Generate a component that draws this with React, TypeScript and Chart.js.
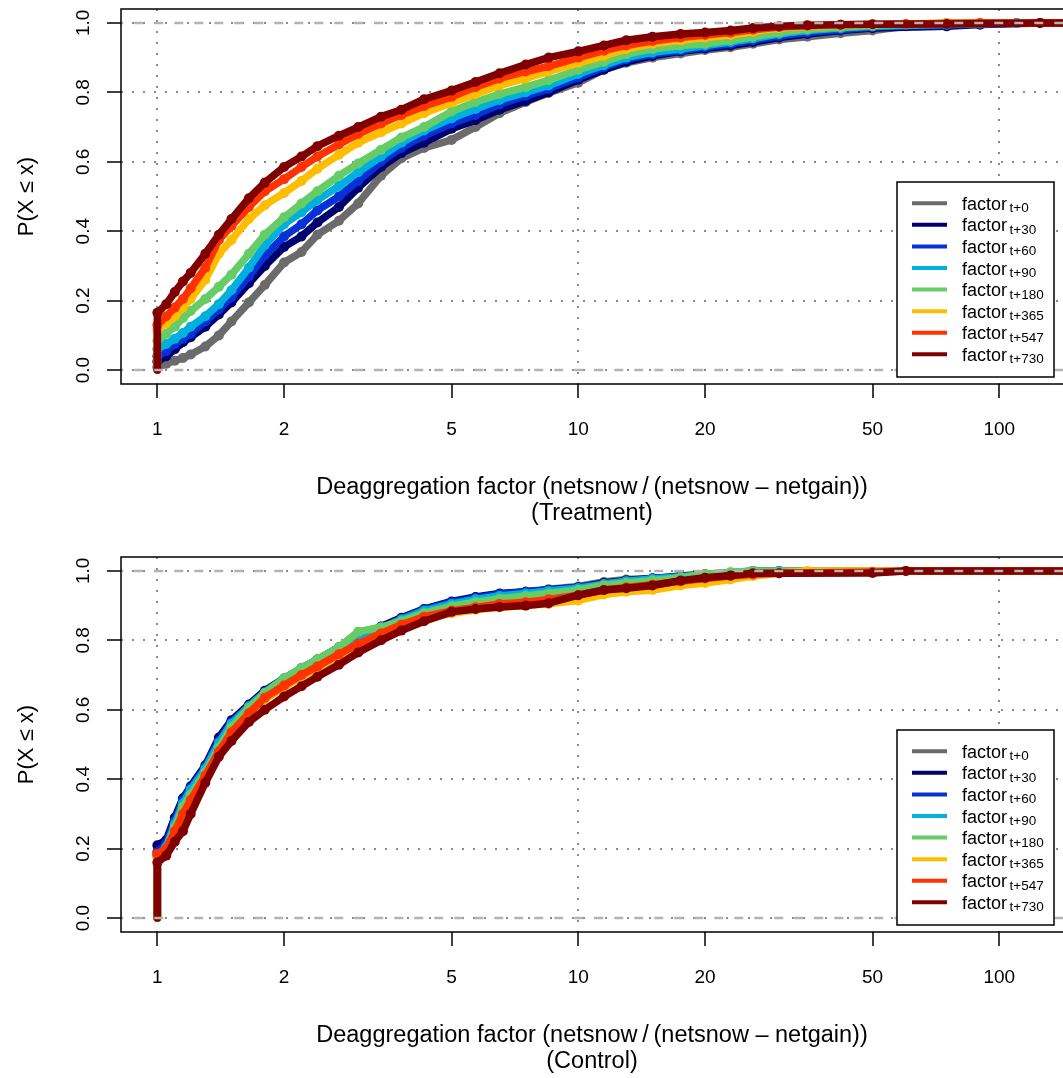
import React, { useEffect, useRef } from 'react';
import { Chart, registerables } from 'chart.js';

Chart.register(...registerables);

// ---------------- data ----------------
const factorGrid = [1, 1.05, 1.1, 1.15, 1.2, 1.3, 1.4, 1.5, 1.65, 1.8, 2, 2.2, 2.4, 2.7, 3, 3.4, 3.8, 4.3, 5, 5.7, 6.5, 7.5, 8.5, 10, 11.5, 13, 15, 17.5, 20, 23, 26, 30, 35, 42, 50, 60, 75, 90, 110, 125];

const seriesLabels = ['t+0', 't+30', 't+60', 't+90', 't+180', 't+365', 't+547', 't+730'];
const seriesColors = ['#6b6b6b', '#00006e', '#0531d6', '#00b0dc', '#66cc66', '#ffbd00', '#ff3300', '#7f0000'];

const xTickValues = [1, 2, 5, 10, 20, 50, 100];
const xGridValues = [1, 10, 100];
const yTickValues = [0, 0.2, 0.4, 0.6, 0.8, 1.0];

// Treatment
const trtT0 = [0.008, 0.018, 0.027, 0.035, 0.045, 0.068, 0.10, 0.14, 0.195, 0.245, 0.31, 0.34, 0.39, 0.43, 0.48, 0.56, 0.61, 0.64, 0.663, 0.70, 0.74, 0.772, 0.798, 0.828, 0.865, 0.885, 0.90, 0.912, 0.922, 0.93, 0.94, 0.952, 0.96, 0.97, 0.978, 0.99, 1.0, null, null, null];
const trtT30 = [0.025, 0.04, 0.06, 0.08, 0.095, 0.125, 0.16, 0.195, 0.25, 0.30, 0.355, 0.385, 0.425, 0.47, 0.525, 0.585, 0.625, 0.655, 0.695, 0.72, 0.75, 0.775, 0.80, 0.836, 0.865, 0.888, 0.905, 0.918, 0.926, 0.935, 0.945, 0.958, 0.968, 0.978, 0.985, null, 0.99, 0.995, null, 1.0];
const trtT60 = [0.04, 0.055, 0.075, 0.09, 0.105, 0.14, 0.175, 0.21, 0.27, 0.33, 0.385, 0.42, 0.46, 0.50, 0.545, 0.60, 0.64, 0.675, 0.71, 0.735, 0.765, 0.79, 0.81, 0.843, 0.872, 0.895, 0.91, 0.92, 0.93, 0.94, 0.95, 0.962, 0.972, 0.98, 0.988, 0.993, null, 0.996, 1.0, null];
const trtT90 = [0.06, 0.075, 0.09, 0.107, 0.125, 0.155, 0.19, 0.23, 0.295, 0.36, 0.42, 0.455, 0.49, 0.53, 0.57, 0.615, 0.655, 0.69, 0.725, 0.752, 0.778, 0.80, 0.82, 0.853, 0.878, 0.90, 0.915, 0.925, 0.935, 0.945, 0.955, 0.968, 0.978, 0.985, 0.99, null, 0.995, null, 1.0, null];
const trtT180 = [0.085, 0.105, 0.125, 0.15, 0.17, 0.205, 0.24, 0.275, 0.335, 0.39, 0.44, 0.48, 0.515, 0.56, 0.595, 0.635, 0.67, 0.70, 0.745, 0.772, 0.795, 0.815, 0.835, 0.865, 0.888, 0.91, 0.925, 0.935, 0.94, 0.95, 0.96, 0.972, 0.982, 0.988, 0.993, 0.996, null, 1.0, null, null];
const trtT365 = [0.115, 0.135, 0.155, 0.18, 0.205, 0.26, 0.335, 0.375, 0.435, 0.475, 0.51, 0.545, 0.58, 0.62, 0.655, 0.685, 0.71, 0.74, 0.77, 0.795, 0.82, 0.84, 0.86, 0.885, 0.905, 0.925, 0.94, 0.95, 0.958, 0.965, 0.975, 0.985, 0.99, 0.993, 0.995, null, 1.0, null, null, null];
const trtT547 = [0.13, 0.155, 0.18, 0.205, 0.235, 0.295, 0.375, 0.415, 0.47, 0.515, 0.55, 0.585, 0.615, 0.65, 0.68, 0.71, 0.735, 0.76, 0.787, 0.815, 0.84, 0.86, 0.875, 0.90, 0.92, 0.935, 0.948, 0.958, 0.965, 0.972, 0.98, 0.988, 0.992, 0.995, null, 0.997, null, 1.0, null, null];
const trtT730 = [0.165, 0.19, 0.225, 0.255, 0.28, 0.335, 0.39, 0.435, 0.495, 0.54, 0.585, 0.615, 0.645, 0.675, 0.70, 0.73, 0.75, 0.78, 0.805, 0.83, 0.855, 0.88, 0.90, 0.918, 0.935, 0.95, 0.96, 0.968, 0.972, 0.978, 0.985, 0.99, 0.993, 0.995, 0.996, null, 0.997, null, null, 1.0];

// Control
const ctlT0 = [0.18, 0.2, 0.26, 0.32, 0.36, 0.425, 0.5, 0.555, 0.605, 0.645, 0.685, 0.715, 0.74, 0.775, 0.80, 0.83, 0.858, 0.885, 0.905, 0.92, 0.932, 0.94, 0.947, 0.955, 0.968, 0.975, 0.978, 0.982, 0.99, 0.995, 1.0, null, null, null, null, null, null, null, null, null];
const ctlT30 = [0.21, 0.225, 0.29, 0.345, 0.38, 0.44, 0.52, 0.57, 0.615, 0.655, 0.69, 0.72, 0.745, 0.78, 0.81, 0.84, 0.865, 0.89, 0.912, 0.925, 0.935, 0.94, 0.945, 0.952, 0.965, 0.972, 0.978, 0.985, 0.99, 0.993, 0.997, 1.0, null, null, null, null, null, null, null, null];
const ctlT60 = [0.19, 0.215, 0.28, 0.34, 0.375, 0.435, 0.51, 0.565, 0.61, 0.65, 0.688, 0.718, 0.743, 0.778, 0.805, 0.835, 0.862, 0.888, 0.91, 0.922, 0.933, 0.94, 0.945, 0.953, 0.962, 0.97, 0.978, 0.983, 0.988, 0.993, 1.0, null, null, null, null, null, null, null, null, null];
const ctlT90 = [0.18, 0.205, 0.27, 0.33, 0.37, 0.43, 0.505, 0.56, 0.61, 0.65, 0.69, 0.72, 0.745, 0.778, 0.805, 0.835, 0.86, 0.885, 0.905, 0.918, 0.928, 0.935, 0.942, 0.95, 0.962, 0.97, 0.977, 0.983, 0.99, 0.995, null, 1.0, null, null, null, null, null, null, null, null];
const ctlT180 = [0.18, 0.2, 0.26, 0.32, 0.355, 0.42, 0.49, 0.55, 0.605, 0.648, 0.69, 0.72, 0.745, 0.78, 0.825, 0.838, 0.855, 0.878, 0.898, 0.91, 0.92, 0.928, 0.935, 0.945, 0.958, 0.965, 0.972, 0.98, 0.99, 0.996, 1.0, null, null, null, null, null, null, null, null, null];
const ctlT365 = [0.175, 0.19, 0.24, 0.29, 0.33, 0.40, 0.475, 0.53, 0.585, 0.63, 0.665, 0.695, 0.72, 0.755, 0.785, 0.815, 0.84, 0.86, 0.878, 0.888, 0.895, 0.90, 0.905, 0.915, 0.932, 0.94, 0.945, 0.958, 0.965, 0.975, 0.985, 0.993, 1.0, null, null, null, null, null, null, null];
const ctlT547 = [0.185, 0.2, 0.25, 0.3, 0.34, 0.41, 0.48, 0.535, 0.59, 0.635, 0.67, 0.70, 0.725, 0.76, 0.79, 0.82, 0.845, 0.868, 0.885, 0.895, 0.905, 0.91, 0.918, 0.93, 0.945, 0.952, 0.96, 0.97, 0.978, 0.985, 0.99, 0.993, null, null, 0.997, 1.0, null, null, null, null];
const ctlT730 = [0.16, 0.18, 0.22, 0.25, 0.3, 0.39, 0.465, 0.51, 0.565, 0.60, 0.638, 0.668, 0.695, 0.73, 0.765, 0.80, 0.828, 0.855, 0.882, 0.89, 0.896, 0.90, 0.907, 0.93, 0.945, 0.95, 0.958, 0.972, 0.98, 0.987, 0.993, 0.993, null, null, 0.994, 1.0, null, null, null, null];

const treatmentSeries = [trtT0, trtT30, trtT60, trtT90, trtT180, trtT365, trtT547, trtT730];
const controlSeries = [ctlT0, ctlT30, ctlT60, ctlT90, ctlT180, ctlT365, ctlT547, ctlT730];

// ---------------- styling / layout ----------------
const FONT = '"Liberation Sans", Arial, Helvetica, sans-serif';
const W = 1063;
const X_MIN = 0.8197;
const X_MAX = 141.7;
const Y_MIN = -0.04;
const Y_MAX = 1.04;
const AREA_TOP = 9;
const AREA_BOTTOM = 384;
const AREA_LEFT = 121;
const GRID_COLOR = '#8a8a8a';
const LINE01_COLOR = '#b3b3b3';

function makeDatasets(series: (number | null)[][]) {
  const sets: any[] = series.map((vals, s) => {
    const pts: { x: number; y: number }[] = [{ x: 1, y: 0 }];
    factorGrid.forEach((x, i) => {
      const v = vals[i];
      if (v !== null && v !== undefined) pts.push({ x, y: v });
    });
    pts.push({ x: X_MAX * 2, y: pts[pts.length - 1].y });
    const n = pts.length;
    return {
      label: seriesLabels[s],
      data: pts,
      borderColor: seriesColors[s],
      backgroundColor: seriesColors[s],
      borderWidth: 7.5,
      borderJoinStyle: 'round',
      borderCapStyle: 'round',
      pointRadius: (ctx: any) => (ctx.dataIndex < 1 || ctx.dataIndex === n - 1 ? 0 : 5),
      pointBorderWidth: 0,
      pointHoverRadius: 0,
      tension: 0,
      order: series.length - s,
    };
  });
  [0, 1].forEach((h) => {
    sets.push({
      label: 'line' + h,
      data: [{ x: X_MIN / 2, y: h }, { x: X_MAX * 2, y: h }],
      borderColor: LINE01_COLOR,
      borderWidth: 2.5,
      borderDash: [9, 11],
      pointRadius: 0,
      order: 0,
    });
  });
  return sets;
}

const boxAndLegend = {
  id: 'boxAndLegend',
  afterDraw(chart: any) {
    const { ctx, chartArea } = chart;
    ctx.save();
    // plot box (right side lies beyond the canvas)
    ctx.strokeStyle = '#000';
    ctx.lineWidth = 1.5;
    ctx.beginPath();
    ctx.moveTo(W + 10, chartArea.top);
    ctx.lineTo(chartArea.left, chartArea.top);
    ctx.lineTo(chartArea.left, chartArea.bottom);
    ctx.lineTo(W + 10, chartArea.bottom);
    ctx.stroke();

    // legend
    const lx = 897, ly = 182, lw = 157, lh = 195;
    ctx.fillStyle = '#fff';
    ctx.fillRect(lx, ly, lw, lh);
    ctx.strokeStyle = '#000';
    ctx.lineWidth = 1.5;
    ctx.strokeRect(lx, ly, lw, lh);
    seriesLabels.forEach((lab, i) => {
      const y = 203.3 + i * 21.57;
      ctx.strokeStyle = seriesColors[i];
      ctx.lineWidth = 4;
      ctx.lineCap = 'butt';
      ctx.beginPath();
      ctx.moveTo(912, y);
      ctx.lineTo(947, y);
      ctx.stroke();
      ctx.fillStyle = '#000';
      ctx.textAlign = 'left';
      ctx.textBaseline = 'alphabetic';
      ctx.font = `18px ${FONT}`;
      ctx.fillText('factor', 962, y + 6.5);
      const w = ctx.measureText('factor').width;
      ctx.font = `13.5px ${FONT}`;
      ctx.fillText(lab, 962 + w + 2.5, y + 9);
    });
    ctx.restore();
  },
};

function makeConfig(series: (number | null)[][], group: string, height: number): any {
  return {
    type: 'line',
    data: { datasets: makeDatasets(series) },
    plugins: [boxAndLegend],
    options: {
      responsive: false,
      animation: false,
      events: [],
      layout: { padding: { top: AREA_TOP, left: 0, right: 0, bottom: 0 } },
      plugins: { legend: { display: false }, tooltip: { enabled: false }, title: { display: false } },
      scales: {
        x: {
          type: 'logarithmic',
          position: 'bottom',
          min: X_MIN,
          max: X_MAX,
          bounds: 'data',
          afterBuildTicks: (scale: any) => {
            scale.ticks = xTickValues.map((v) => ({ value: v }));
          },
          afterFit: (scale: any) => {
            scale.height = height - AREA_BOTTOM;
            scale.paddingLeft = 0;
            scale.paddingRight = 0;
          },
          ticks: {
            autoSkip: false,
            maxRotation: 0,
            minRotation: 0,
            padding: 20,
            color: '#000',
            font: { family: FONT, size: 19 },
            callback: (v: any) => String(v),
          },
          grid: {
            color: (ctx: any) => (ctx.tick && xGridValues.includes(ctx.tick.value) ? GRID_COLOR : 'rgba(0,0,0,0)'),
            lineWidth: 2,
            drawTicks: true,
            tickLength: 14,
            tickColor: '#000',
            tickWidth: 1.5,
          },
          border: { display: false, dash: [2, 9] },
          title: {
            display: true,
            text: ['Deaggregation factor (netsnow\u2009/\u2009(netsnow \u2013 netgain))', `(${group})`],
            color: '#000',
            font: { family: FONT, size: 23.5, lineHeight: 26 / 23.5 },
            padding: { top: 0, bottom: height - 39 - 488 },
          },
        },
        y: {
          type: 'linear',
          position: 'left',
          min: Y_MIN,
          max: Y_MAX,
          bounds: 'data',
          afterBuildTicks: (scale: any) => {
            scale.ticks = yTickValues.map((v) => ({ value: v }));
          },
          afterFit: (scale: any) => {
            scale.width = AREA_LEFT;
            scale.paddingTop = 0;
            scale.paddingBottom = 0;
          },
          ticks: {
            autoSkip: false,
            minRotation: 90,
            maxRotation: 90,
            crossAlign: 'center',
            padding: 10,
            color: '#000',
            font: { family: FONT, size: 19 },
            callback: (v: any) => Number(v).toFixed(1),
          },
          grid: {
            color: GRID_COLOR,
            lineWidth: 2,
            drawTicks: true,
            tickLength: 14,
            tickColor: '#000',
            tickWidth: 1.5,
          },
          border: { display: false, dash: [2, 9] },
          title: {
            display: true,
            text: 'P(X \u2264 x)',
            color: '#000',
            font: { family: FONT, size: 22, lineHeight: 1.2 },
            padding: { top: 14, bottom: 0 },
          },
        },
      },
    },
  };
}

function EcdfPanel(props: { series: (number | null)[][]; group: string; top: number; height: number }) {
  const ref = useRef<HTMLCanvasElement>(null);
  useEffect(() => {
    if (!ref.current) return;
    const chart = new Chart(ref.current, makeConfig(props.series, props.group, props.height));
    return () => chart.destroy();
  }, []);
  return (
    <canvas
      ref={ref}
      width={W}
      height={props.height}
      style={{ position: 'absolute', left: 0, top: props.top, width: W, height: props.height, display: 'block' }}
    />
  );
}

export default function App() {
  useEffect(() => {
    document.body.style.overflow = 'hidden';
  }, []);
  return (
    <div style={{ position: 'absolute', left: 0, top: 0, width: W, height: 1078, background: '#fff' }}>
      <EcdfPanel series={treatmentSeries} group="Treatment" top={0} height={540} />
      <EcdfPanel series={controlSeries} group="Control" top={548} height={530} />
    </div>
  );
}
